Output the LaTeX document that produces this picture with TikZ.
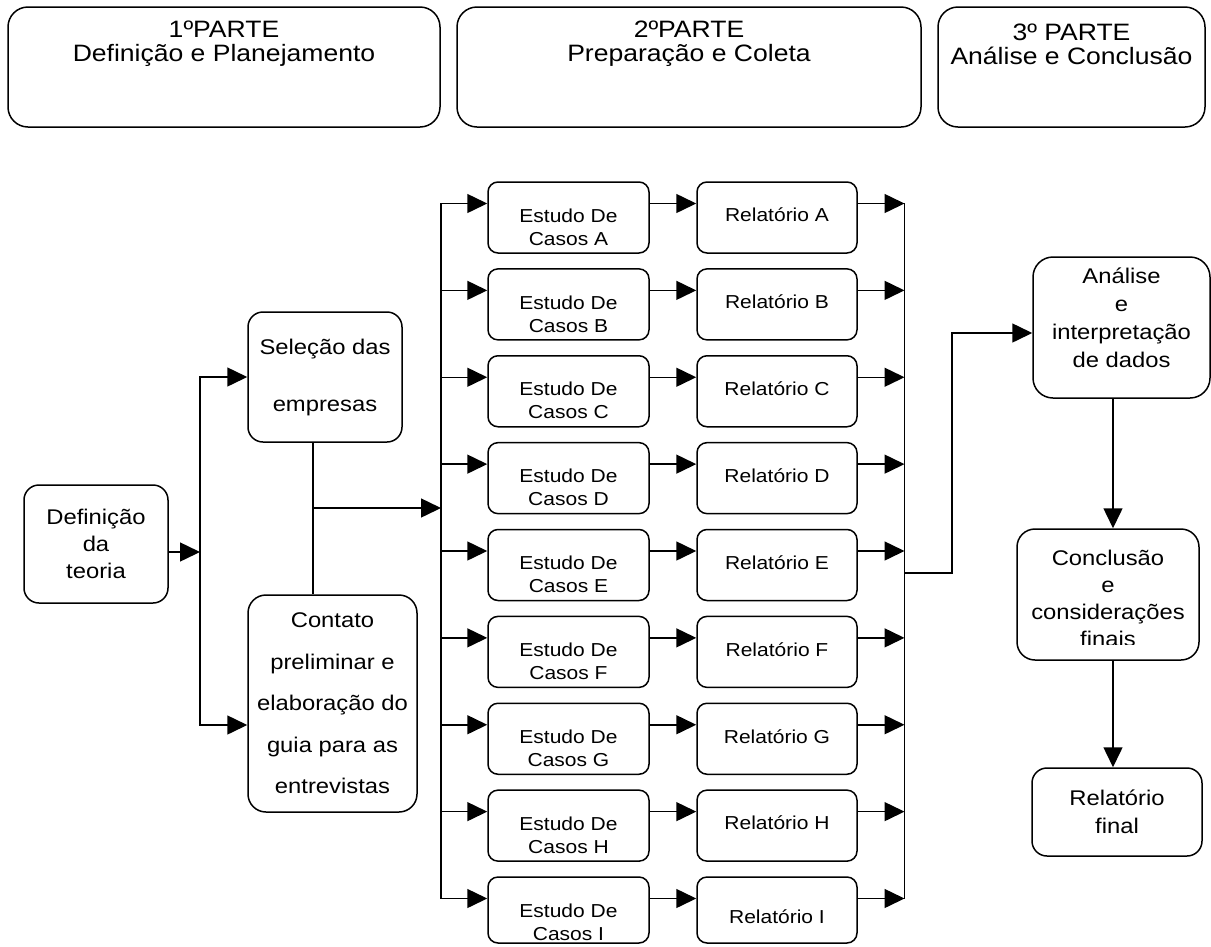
\documentclass[tikz,border=0pt]{standalone}
\usepackage{fontspec}
\setmainfont{Liberation Sans}[FakeStretch=1.12]
\usetikzlibrary{arrows.meta}
\newcommand\fhead{\fontsize{23.7pt}{24pt}\selectfont}
\newcommand\fmain{\fontsize{21.25pt}{27pt}\selectfont}
\newcommand\frow{\fontsize{18.75pt}{23pt}\selectfont}
\begin{document}
\begin{tikzpicture}[x=1pt,y=-1pt,
  box/.style={draw, line width=1.5pt, rounded corners=#1, inner sep=0pt, align=center, fill=white},
  box/.default=12pt,
  ln/.style={line width=1.5pt},
  arr/.style={line width=1.5pt, -{Triangle[length=20pt,width=19pt]}},
  tx/.style={inner sep=0pt, align=center}]
\fill[white] (0,0) rectangle (1211,946);
\useasboundingbox (0,0) rectangle (1211,946);

% headers
\node[box=20pt, minimum width=432pt, minimum height=120pt] (h1) at (224,67) {};
\node[box=20pt, minimum width=464pt, minimum height=120pt] (h2) at (689,67) {};
\node[box=20pt, minimum width=267pt, minimum height=120pt] (h3) at (1071.5,67) {};
\node[tx, font=\fhead] (h1t) at (224,44) {1ºPARTE\\Definição e Planejamento};
\node[tx, font=\fhead] (h2t) at (689,44) {2ºPARTE\\Preparação e Coleta};
\node[tx, font=\fhead] (h3t) at (1071.5,44) {3º PARTE\\Análise e Conclusão};

% left part
\node[box=15pt, minimum width=144pt, minimum height=118pt, font=\fmain] (definicao) at (96,544) {Definição\\da\\teoria};
\node[box=15pt, minimum width=154pt, minimum height=130pt, font=\fontsize{21.25pt}{57pt}\selectfont] (selecao) at (325,377) {Seleção das\\empresas};
\node[box=18pt, minimum width=169pt, minimum height=217pt, font=\fontsize{21.25pt}{41.5pt}\selectfont] (contato) at (332.5,703.5) {Contato\\preliminar e\\elaboração do\\guia para as\\entrevistas};

\coordinate (b2top) at (200,377);
\coordinate (b2bot) at (200,725);
\coordinate (b2mid) at (200,552);
\draw[ln, {Triangle[length=20pt,width=19pt]}-{Triangle[length=20pt,width=19pt]}]
  (selecao.west) -- (b2top) -- (b2bot) -- (contato.west |- b2bot);
\draw[arr] (definicao.east |- b2mid) -- (b2mid);

\coordinate (j) at (313,508);
\coordinate (lin) at (441,508);
\draw[ln] (j |- selecao.south) -- (j |- contato.north);
\draw[arr] (j) -- (lin);

% rows
\foreach \L/\k/\h/\ry in {A/0/71/33,B/1/71/33,C/2/71/33,D/3/71/33,E/4/71/33,F/5/71/33,G/6/71/33,H/7/71/33,I/8/66/40} {
  \pgfmathsetmacro\t{182+86.875*\k}
  \node[box=10pt, minimum width=161pt, minimum height=\h pt] (est\L) at (568.5,{\t+\h/2}) {};
  \node[box=10pt, minimum width=160pt, minimum height=\h pt] (rel\L) at (777,{\t+\h/2}) {};
  \node[tx, font=\frow] (estt\L) at (568.5,{\t+45}) {Estudo De\\Casos \L};
  \node[tx, font=\frow] (relt\L) at (777,{\t+\ry}) {Relatório \L};
  \coordinate (l\L) at (441,{\t+21.5});
  \coordinate (r\L) at (904.5,{\t+21.5});
  \draw[arr] (l\L) -- (est\L.west |- l\L);
  \draw[arr] (est\L.east |- l\L) -- (rel\L.west |- l\L);
  \draw[arr] (rel\L.east |- l\L) -- (r\L);
}
\draw[ln, line cap=rect] (lA) -- (lI);
\draw[ln, line cap=rect] (rA) -- (rI);

% right part
\node[box=20pt, minimum width=177pt, minimum height=141pt] (analise) at (1121.5,327.5) {};
\node[tx, font=\fontsize{21.25pt}{28pt}\selectfont] (analiset) at (1121.5,318) {Análise\\e\\interpretação\\de dados};
\node[box=18pt, minimum width=182pt, minimum height=131pt] (conclusao) at (1108,594.5) {};
\begin{scope}
  \clip (1017,529) rectangle (1199,644);
  \node[tx, font=\fmain] (conclusaot) at (1108,598) {Conclusão\\e\\considerações\\finais};
\end{scope}
\node[box=15pt, minimum width=170pt, minimum height=88pt, font=\fontsize{21.25pt}{28pt}\selectfont] (relfinal) at (1117,812) {Relatório\\final};

\coordinate (rout) at (904.5,573);
\coordinate (rk1) at (952,573);
\coordinate (rk2) at (952,333);
\draw[arr] (rout) -- (rk1) -- (rk2) -- (analise.west |- rk2);

\coordinate (vx) at (1113,0);
\draw[arr] (vx |- analise.south) -- (vx |- conclusao.north);
\draw[arr] (vx |- conclusao.south) -- (vx |- relfinal.north);
\end{tikzpicture}
\end{document}
